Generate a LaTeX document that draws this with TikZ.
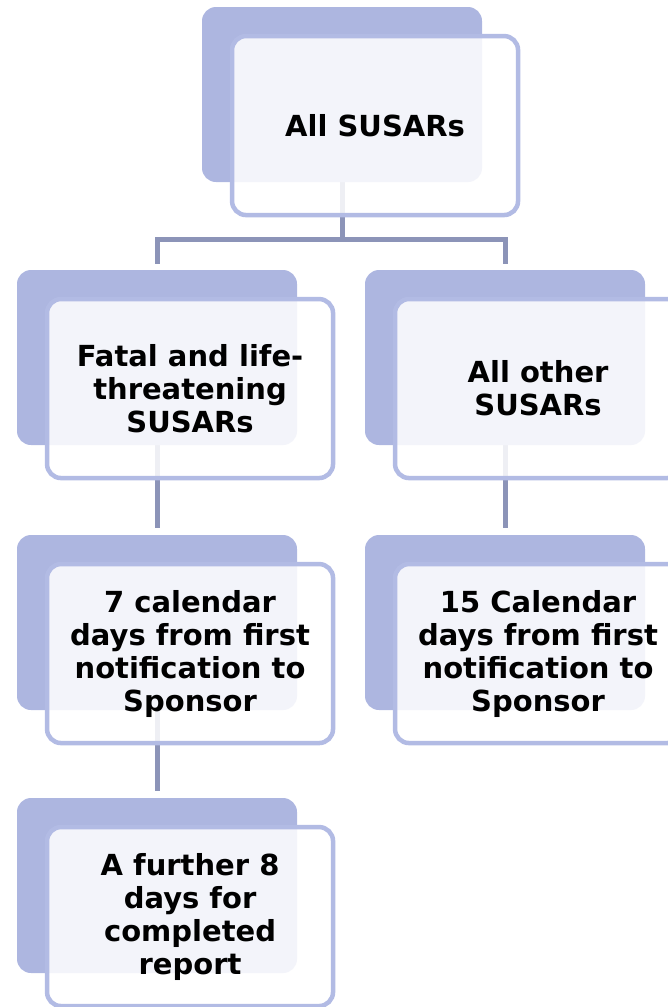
\documentclass[tikz,border=0pt]{standalone}
\usepackage{fontspec}
\setmainfont{DejaVu Sans}
\usepackage{tikz}
\usetikzlibrary{positioning,calc}
\pgfdeclarelayer{background}
\pgfsetlayers{background,main}
\definecolor{shadowblue}{RGB}{173,182,224}
\definecolor{edgeblue}{RGB}{178,187,228}
\definecolor{linkgray}{RGB}{140,148,184}
\tikzstyle{back} = [rectangle, rounded corners=14pt, minimum width=280pt, minimum height=175pt, inner sep=0pt, fill=shadowblue]
\tikzstyle{front} = [
  rectangle, rounded corners=14pt, 
  minimum width=286pt, minimum height=179pt, inner sep=0pt,
  draw=edgeblue, line width=4.5pt, fill=white, fill opacity=0.86, text opacity=1,
  align=center, anchor=north west, font=\bfseries\fontsize{29}{33}\selectfont
]
\tikzstyle{link} = [line width=5pt, draw=linkgray]

\begin{document}
\begin{tikzpicture}[x=1pt, y=-1pt]
        \useasboundingbox (0,0) rectangle (668,1007);
        % Top ------------------------------------------------------------------------------------
        \node[back](top_back) at (342,94.5){};
        \node[front](top) at ([shift={(28,27)}]top_back.north west){All SUSARs};
        % Second row ------------------------------------------------------------------------------
        \node[back](fatal_back) at (157,357.5){};
        \node[front](fatal) at ([shift={(28,27)}]fatal_back.north west){Fatal and life-\\threatening\\SUSARs};
        \node[back](other_back) at (505,357.5){};
        \node[front](other) at ([shift={(28,27)}]other_back.north west){All other\\SUSARs};
        % Third row -------------------------------------------------------------------------------
        \node[back](seven_back) at (157,622.5){};
        \node[front](seven) at ([shift={(28,27)}]seven_back.north west){7 calendar\\days from first\\notification to\\Sponsor};
        \node[back](fifteen_back) at (505,622.5){};
        \node[front](fifteen) at ([shift={(28,27)}]fifteen_back.north west){15 Calendar\\days from first\\notification to\\Sponsor};
        % Last row --------------------------------------------------------------------------------
        \node[back](further_back) at (157,885.5){};
        \node[front](further) at ([shift={(28,27)}]further_back.north west){A further 8\\days for\\completed\\report};
        % Links -----------------------------------------------------------------------------------
        \begin{pgfonlayer}{background}
            \coordinate (split) at (0,239);
            \draw[link] (top_back.center) -- (top_back.center |- split);
            \draw[link] ([yshift=6pt]fatal_back.north) |- (other_back.north |- split) -- ([yshift=6pt]other_back.north);
            \draw[link] (fatal_back.center) -- ([yshift=7pt]seven_back.north);
            \draw[link] (other_back.center) -- ([yshift=7pt]fifteen_back.north);
            \draw[link] (seven_back.center) -- ([yshift=7pt]further_back.north);
        \end{pgfonlayer}
    \end{tikzpicture}
\end{document}
